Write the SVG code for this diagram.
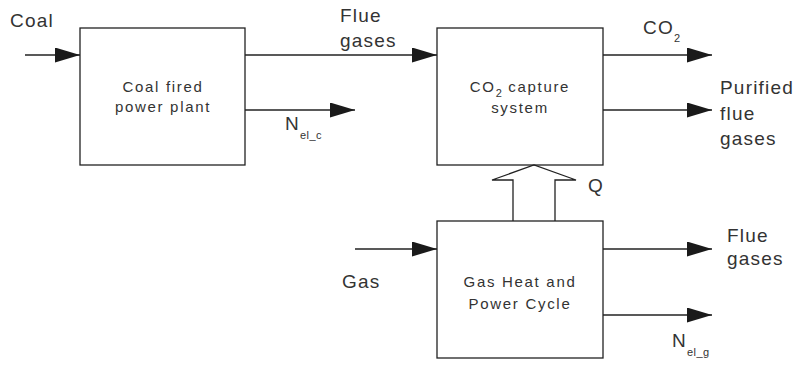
<svg xmlns="http://www.w3.org/2000/svg" width="801" height="365" viewBox="0 0 801 365">
<style>
.box{fill:#fff;stroke:#222;stroke-width:1.3}
.ln{fill:none;stroke:#222;stroke-width:1.3}
.lbl{font-family:"Liberation Sans",Arial,sans-serif;font-size:19px;letter-spacing:1.2px;fill:#333}
.in{font-family:"Liberation Sans",Arial,sans-serif;font-size:15px;letter-spacing:1.7px;fill:#333;text-anchor:middle}
.sub{font-size:11px;letter-spacing:0.5px}
</style>
<defs>
<marker id="ah" markerUnits="userSpaceOnUse" markerWidth="26" markerHeight="16" refX="25" refY="7.5" orient="auto">
<path d="M0,0 L25,7.5 L0,15 z" fill="#1a1a1a"/>
</marker>
</defs>
<rect width="801" height="365" fill="#fff"/>
<g id="coal-plant">
<rect class="box" x="80" y="28" width="165" height="137"/>
<text class="in" x="163" y="92">Coal fired</text>
<text class="in" x="163" y="112">power plant</text>
</g>
<g id="co2-capture">
<rect class="box" x="437" y="28" width="166" height="137"/>
<text class="in" x="520" y="92">CO<tspan class="sub" dy="5">2</tspan><tspan dy="-5"> capture</tspan></text>
<text class="in" x="520" y="113">system</text>
</g>
<g id="gas-cycle">
<rect class="box" x="437" y="221" width="166" height="137"/>
<text class="in" x="520" y="287">Gas Heat and</text>
<text class="in" x="520" y="309">Power Cycle</text>
</g>
<g id="connectors">
<line class="ln" x1="25" y1="55" x2="80" y2="55" marker-end="url(#ah)"/>
<line class="ln" x1="245" y1="55" x2="437" y2="55" marker-end="url(#ah)"/>
<line class="ln" x1="245" y1="110" x2="355" y2="110" marker-end="url(#ah)"/>
<line class="ln" x1="603" y1="55" x2="712" y2="55" marker-end="url(#ah)"/>
<line class="ln" x1="603" y1="110" x2="712" y2="110" marker-end="url(#ah)"/>
<line class="ln" x1="355" y1="249" x2="437" y2="249" marker-end="url(#ah)"/>
<line class="ln" x1="603" y1="249" x2="712" y2="249" marker-end="url(#ah)"/>
<line class="ln" x1="603" y1="315" x2="712" y2="315" marker-end="url(#ah)"/>
<path class="ln" d="M513,221 L513,180 L492,180 L534,165 L576,180 L555,180 L555,221" fill="#fff"/>
</g>
<g id="labels">
<text class="lbl" x="10" y="27">Coal</text>
<text class="lbl" x="340" y="22">Flue</text>
<text class="lbl" x="340" y="47">gases</text>
<text class="lbl" x="285" y="130">N<tspan class="sub" dy="9">el_c</tspan></text>
<text class="lbl" x="643" y="34">CO<tspan class="sub" dy="8">2</tspan></text>
<text class="lbl" x="720" y="94">Purified</text>
<text class="lbl" x="720" y="120">flue</text>
<text class="lbl" x="720" y="145">gases</text>
<text class="lbl" x="588" y="192">Q</text>
<text class="lbl" x="342" y="288">Gas</text>
<text class="lbl" x="727" y="242">Flue</text>
<text class="lbl" x="727" y="265">gases</text>
<text class="lbl" x="672" y="347">N<tspan class="sub" dy="9">el_g</tspan></text>
</g>
</svg>
